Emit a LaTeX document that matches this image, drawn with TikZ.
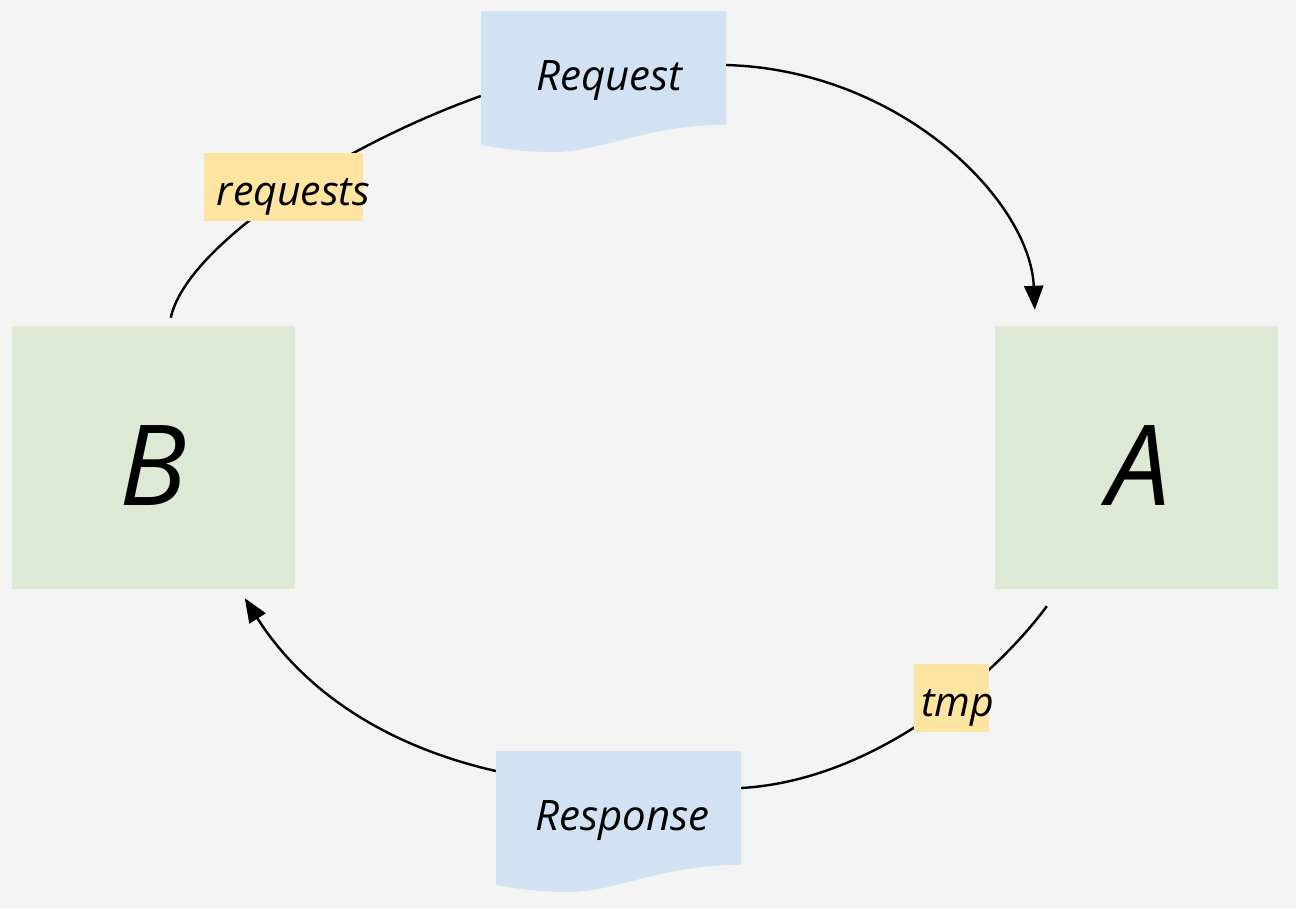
\documentclass[tikz,border=0pt]{standalone}
\usepackage{fontspec}
\setmainfont{Open Sans}
\usetikzlibrary{arrows.meta}
\definecolor{bgc}{HTML}{F3F3F3}
\definecolor{docblue}{HTML}{D3E2F3}
\definecolor{boxgreen}{HTML}{DDE8D5}
\definecolor{labyellow}{HTML}{FDE5A1}
\tikzset{
  conn/.style={line width=2.4pt, black},
  arr/.style={-{Triangle[length=24pt,width=19pt]}},
  bigbox/.style={fill=boxgreen, minimum width=283pt, minimum height=263pt, inner sep=0pt, text height=100pt, text depth=5pt, font=\fontsize{112}{120}\selectfont\itshape},
  docnode/.style={minimum width=245pt, minimum height=124pt, inner sep=0pt, text height=40pt, text depth=5pt, font=\fontsize{42}{48}\selectfont\itshape},
  lab/.style={fill=labyellow, minimum height=68pt, inner sep=0pt, text height=40pt, text depth=4pt, font=\fontsize{41}{46}\selectfont\itshape},
  docfill/.style={fill=docblue}
}
\begin{document}
\begin{tikzpicture}[x=1pt,y=-1pt]
\fill[bgc] (0,0) rectangle (1296,908);
\useasboundingbox (0,0) rectangle (1296,908);
% document shapes
\fill[docfill] (481,11) -- (726,11) -- (726,125) .. controls (650,124) and (600,152) .. (555,152) .. controls (520,152) and (500,148) .. (481,145) -- cycle;
\fill[docfill] (496,751) -- (741,751) -- (741,865) .. controls (665,864) and (615,892) .. (570,892) .. controls (535,892) and (515,888) .. (496,885) -- cycle;
\node[docnode] (req) at (603.5,73) {\hspace*{12pt}Request};
\node[docnode] (resp) at (618.5,813) {\hspace*{8pt}Response};
\node[bigbox] (B) at (153.5,457.5) {B};
\node[bigbox] (A) at (1136.5,457.5) {\hspace*{4pt}A};
% connectors
\draw[conn,arr] ([yshift=8pt]req.east) .. controls (900,70) and (1030,200) .. ([xshift=40pt,yshift=16pt]A.north west);
\draw[conn] ([xshift=159pt,yshift=8pt]B.north west) .. controls (185,250) and (330,150) .. ([yshift=-23pt]req.west);
\draw[conn] ([xshift=52pt,yshift=-17pt]A.south west) .. controls (1000,670) and (880,780) .. ([yshift=25pt]resp.east);
\draw[conn,arr] ([yshift=42pt]resp.west) .. controls (360,740) and (290,670) .. ([xshift=233pt,yshift=-9pt]B.south west);
% labels
\node[lab, minimum width=159pt] (l1) at (283.5,187) {\hspace*{10pt}\rlap{requests}\hspace*{-10pt}\phantom{requests}};
\node[lab, minimum width=75pt] (l2) at (951.5,698) {\hspace*{6pt}\rlap{tmp}\hspace*{-6pt}\phantom{tmp}};
\end{tikzpicture}
\end{document}
